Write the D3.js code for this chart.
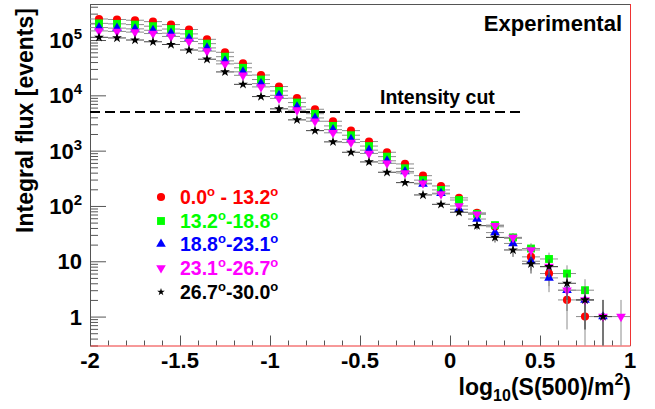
<!DOCTYPE html>
<html>
<head>
<meta charset="utf-8">
<script src="https://cdn.jsdelivr.net/npm/d3@7"></script>
<style>
  body { margin: 0; background: #fff; }
  text { font-family: "Liberation Sans", Arial, sans-serif; font-weight: bold; }
</style>
</head>
<body>
<svg id="chart"></svg>
<script>
"use strict";

// =================== DATA ===================
const binCenters = [-1.95, -1.85, -1.75, -1.65, -1.55, -1.45, -1.35, -1.25, -1.15, -1.05,
  -0.95, -0.85, -0.75, -0.65, -0.55, -0.45, -0.35, -0.25, -0.15, -0.05,
  0.05, 0.15, 0.25, 0.35, 0.45, 0.55, 0.65, 0.75, 0.85, 0.95];
const binHalfWidth = 0.05;

const fluxRed = [240000, 235000, 228000, 215000, 190000, 155000, 103000, 60000, 38000, 23300,
  14400, 8900, 5600, 3400, 2300, 1460, 935, 575, 353, 230,
  140, 75, 42, 26, 12, 6, 2, 1, null, null];
const fluxGreen = [200000, 196000, 190000, 178000, 158000, 129000, 86000, 50000, 31500, 19300,
  12000, 7400, 4650, 2800, 1900, 1210, 780, 480, 293, 195,
  128, 72, 45, 27, 17, 11, 6, 3, null, null];
const fluxBlue = [168000, 164000, 159000, 150000, 133000, 108000, 72000, 42000, 26600, 16300,
  10000, 6200, 3900, 2400, 1600, 1020, 655, 420, 250, 170,
  87, 58, 33, 21, 10, 5, 3, 2, 1, null];
const fluxMagenta = [146000, 143000, 139000, 131000, 116000, 94000, 63000, 37000, 23000, 14200,
  8800, 5400, 3400, 2100, 1400, 890, 590, 395, 257, 165,
  100, 71, 44, 27, 16, 8, 3, 2, 1, 1];
const fluxBlack = [112000, 109000, 100000, 93000, 83000, 66000, 45000, 26500, 15800, 9500,
  5700, 3600, 2300, 1440, 935, 625, 407, 264, 158, 107,
  77, 44, 27, 16, 9, 8, 4, 2, 1, null];

const seriesLabels = [
  ["0.0", " - 13.2"],
  ["13.2", "-18.8"],
  ["18.8", "-23.1"],
  ["23.1", "-26.7"],
  ["26.7", "-30.0"]
];

const xTickValues = [-2, -1.5, -1, -0.5, 0, 0.5, 1];
const xTickLabels = ["-2", "-1.5", "-1", "-0.5", "0", "0.5", "1"];
const yTickValues = [1, 10, 100, 1000, 10000, 100000];
const yTickBase = ["1", "10", "10", "10", "10", "10"];
const yTickExp = ["", "", "2", "3", "4", "5"];

const intensityCut = 5000;
const intensityCutEnd = 0.41;

// =================== SETUP ===================
const W = 655, H = 409;
const plot = { left: 90, right: 630, top: 4, bottom: 345.5 };

const svg = d3.select("#chart").attr("width", W).attr("height", H);

const x = d3.scaleLinear().domain([-2, 1]).range([plot.left, plot.right]);
const y = d3.scaleLog().domain([0.3, 4.48e5]).range([plot.bottom, plot.top]);

// =================== AXES ===================
// y axis: ticks point into the frame
const yMinor = [];
for (let e = -1; e <= 5; e++) {
  for (let m = 2; m <= 9; m++) {
    const v = m * Math.pow(10, e);
    if (v >= 0.3 && v <= 4.48e5) yMinor.push(v);
  }
}
svg.append("g")
  .attr("transform", `translate(${plot.left},0)`)
  .call(d3.axisRight(y).tickValues(yMinor).tickSize(8).tickSizeOuter(0).tickFormat(""))
  .call(g => g.select(".domain").remove())
  .call(g => g.selectAll("line").attr("stroke", "#555"));
svg.append("g")
  .attr("transform", `translate(${plot.left},0)`)
  .call(d3.axisRight(y).tickValues(yTickValues).tickSize(16).tickSizeOuter(0).tickFormat(""))
  .call(g => g.select(".domain").attr("stroke", "#555"))
  .call(g => g.selectAll("line").attr("stroke", "#555"));

const xMinor = d3.range(-20, 11).map(i => i / 10);
svg.append("g")
  .attr("transform", `translate(0,${plot.bottom})`)
  .call(d3.axisTop(x).tickValues(xMinor).tickSize(5).tickSizeOuter(0).tickFormat(""))
  .call(g => g.select(".domain").remove())
  .call(g => g.selectAll("line").attr("stroke", "#555"));
svg.append("g")
  .attr("transform", `translate(0,${plot.bottom})`)
  .call(d3.axisTop(x).tickValues(xTickValues).tickSize(10).tickSizeOuter(0).tickFormat(""))
  .call(g => g.select(".domain").attr("stroke", "#e33"))
  .call(g => g.selectAll("line").attr("stroke", "#555"));

// frame
svg.append("line")
  .attr("x1", plot.left).attr("x2", plot.right)
  .attr("y1", plot.top + 0.5).attr("y2", plot.top + 0.5)
  .attr("stroke", "#555");
svg.append("line")
  .attr("x1", plot.right + 0.5).attr("x2", plot.right + 0.5)
  .attr("y1", plot.top).attr("y2", plot.bottom)
  .attr("stroke", "#e33");

// tick labels
xTickValues.forEach((v, i) => {
  svg.append("text")
    .attr("x", x(v)).attr("y", 368)
    .attr("text-anchor", "middle")
    .style("font-size", "22px")
    .text(xTickLabels[i]);
});
yTickValues.forEach((v, i) => {
  const t = svg.append("text")
    .attr("x", 82).attr("y", y(v) + 8)
    .attr("text-anchor", "end")
    .style("font-size", "22px");
  t.append("tspan").text(yTickBase[i]);
  if (yTickExp[i]) {
    t.append("tspan").attr("dy", -9).style("font-size", "15px").text(yTickExp[i]);
  }
});

// axis titles
svg.append("text")
  .attr("transform", `translate(33,${(5 + 236) / 2}) rotate(-90)`)
  .attr("text-anchor", "middle")
  .style("font-size", "23px")
  .text("Integral flux [events]");

const xTitle = svg.append("text")
  .attr("x", 631).attr("y", 395)
  .attr("text-anchor", "end")
  .style("font-size", "23px");
xTitle.append("tspan").text("log");
xTitle.append("tspan").attr("dy", 6).style("font-size", "16px").text("10");
xTitle.append("tspan").attr("dy", -6).text("(S(500)/m");
xTitle.append("tspan").attr("dy", -10).style("font-size", "16px").text("2");
xTitle.append("tspan").attr("dy", 10).text(")");

// =================== INTENSITY CUT ===================
svg.append("line")
  .attr("x1", x(-2)).attr("x2", x(intensityCutEnd))
  .attr("y1", y(intensityCut)).attr("y2", y(intensityCut))
  .attr("stroke", "#000").attr("stroke-width", 2)
  .attr("stroke-dasharray", "10,5");
svg.append("text")
  .attr("x", 380).attr("y", 104)
  .style("font-size", "19.5px")
  .text("Intensity cut");

svg.append("text")
  .attr("x", 622).attr("y", 31)
  .attr("text-anchor", "end")
  .style("font-size", "22px")
  .text("Experimental");

// =================== SERIES ===================
const series = [
  { values: fluxRed, color: "#ff0000", bar: "#8c8c8c", symbol: d3.symbolCircle, size: 52, rot: 0 },
  { values: fluxGreen, color: "#00ff00", bar: "#8c8c8c", symbol: d3.symbolSquare, size: 62, rot: 0 },
  { values: fluxBlue, color: "#0000ff", bar: "#8c8c8c", symbol: d3.symbolTriangle, size: 40, rot: 0 },
  { values: fluxMagenta, color: "#ff00ff", bar: "#8c8c8c", symbol: d3.symbolTriangle, size: 40, rot: 180 },
  { values: fluxBlack, color: "#000000", bar: "#444444", symbol: d3.symbolStar, size: 30, rot: 0 }
];

const plotArea = svg.append("g");

series.forEach(s => {
  const pts = binCenters
    .map((c, i) => ({ x: c, v: s.values[i] }))
    .filter(d => d.v != null);
  const g = plotArea.append("g");

  // error bars: bin width and sqrt(N)
  g.selectAll("line.h").data(pts).enter().append("line")
    .attr("x1", d => x(d.x - binHalfWidth)).attr("x2", d => x(d.x + binHalfWidth))
    .attr("y1", d => y(d.v)).attr("y2", d => y(d.v))
    .attr("stroke", s.bar).attr("stroke-width", 1);
  g.selectAll("line.v").data(pts).enter().append("line")
    .attr("x1", d => x(d.x)).attr("x2", d => x(d.x))
    .attr("y1", d => y(d.v + Math.sqrt(d.v)))
    .attr("y2", d => {
      const lo = d.v - Math.sqrt(d.v);
      return lo > 0.3 ? y(lo) : plot.bottom;
    })
    .attr("stroke", s.bar).attr("stroke-width", 1);

  g.selectAll("path").data(pts).enter().append("path")
    .attr("d", d3.symbol().type(s.symbol).size(s.size))
    .attr("transform", d => `translate(${x(d.x)},${y(d.v)}) rotate(${s.rot})`)
    .attr("fill", s.color);
});

// =================== LEGEND ===================
const legendY = [197, 221, 244, 268, 292];
series.forEach((s, i) => {
  svg.append("path")
    .attr("d", d3.symbol().type(s.symbol).size(i === 4 ? 18 : s.size))
    .attr("transform", `translate(161,${legendY[i]}) rotate(${s.rot})`)
    .attr("fill", s.color);
  const t = svg.append("text")
    .attr("x", 180).attr("y", legendY[i] + 7)
    .attr("fill", s.color)
    .style("font-size", "19.5px");
  const [a, b] = seriesLabels[i];
  t.append("tspan").text(a);
  t.append("tspan").attr("dy", -8).style("font-size", "13px").text("o");
  t.append("tspan").attr("dy", 8).text(b);
  t.append("tspan").attr("dy", -8).style("font-size", "13px").text("o");
});
</script>
</body>
</html>
